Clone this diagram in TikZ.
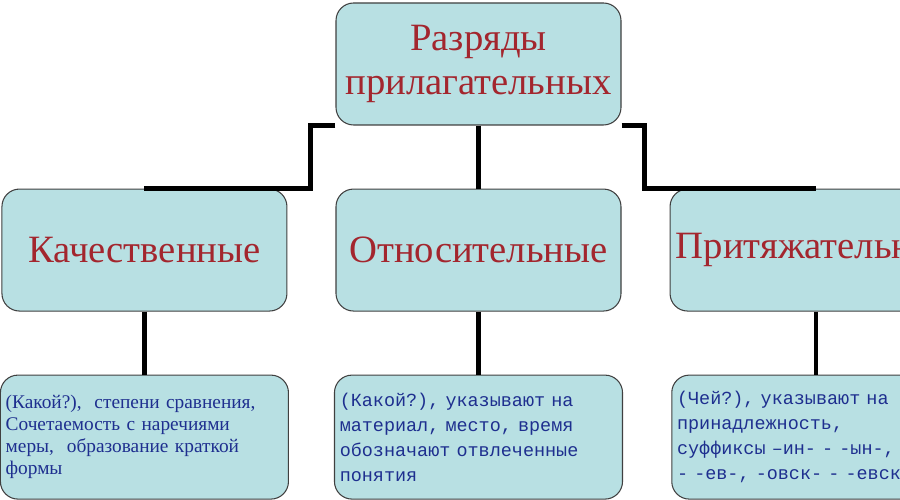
\documentclass[tikz,border=0pt]{standalone}
\usepackage{fontspec}
\setmainfont{Liberation Serif}
\setmonofont{Liberation Mono}
\usetikzlibrary{positioning}
\definecolor{boxfill}{HTML}{B8E0E3}
\definecolor{titlered}{HTML}{A3262E}
\definecolor{noteblue}{HTML}{1E2F8F}

\begin{document}
\begin{tikzpicture}[
        node distance=1.26cm and 0.96cm,
        catbox/.style={rectangle, rounded corners=10pt, draw=black!75, line width=0.6pt, fill=boxfill, minimum width=5.7cm, minimum height=2.44cm, align=center, text=titlered, font=\fontsize{22}{25}\selectfont},
        notebox/.style={rectangle, rounded corners=10pt, draw=black!75, line width=0.6pt, fill=boxfill, minimum width=5.7cm, minimum height=2.48cm, inner xsep=3pt, text width=5.55cm, align=left, text=noteblue},
        link/.style={line width=2.6pt, black},
    ]
        \useasboundingbox (0,0) rectangle (18,-10);
        \clip (0,0) rectangle (18,-10);

        % Top
        \node[catbox] (root) at (9.57,-1.28) {Разряды\\прилагательных};

        % Three kinds
        \node[catbox, below=of root] (rel) {Относительные};
        \node[catbox, left=of rel] (qual) {Качественные};
        \node[catbox, right=of rel] (poss) {Притяжательные};

        % Notes
        \node[notebox, below=of qual, font=\fontsize{11}{12.6}\selectfont] (qualnote) {(Какой?),\ \ степени сравнения,\\Сочетаемость с наречиями\\меры,\ \ образование краткой\\формы};
        \node[notebox, below=of rel, font=\ttfamily\fontsize{10.5}{14.2}\selectfont] (relnote) {(Какой?), указывают на\\материал, место, время\\обозначают отвлеченные\\понятия};
        \node[notebox, below=of poss, font=\ttfamily\fontsize{10.5}{14.2}\selectfont] (possnote) {(Чей?), указывают на\\принадлежность,\\суффиксы –ин- - -ын-,\\- -ев-, -овск- - -евск-, -};

        % Links from top
        \draw[link] (root.south west) -- ++(-0.5,0) |- (qual.north);
        \draw[link] (root) -- (rel);
        \draw[link] (root.south east) -- ++(0.46,0) |- (poss.north);

        % Links to notes
        \draw[link] (qual) -- (qualnote);
        \draw[link] (rel) -- (relnote);
        \draw[link] (poss) -- (possnote);
    \end{tikzpicture}
\end{document}
